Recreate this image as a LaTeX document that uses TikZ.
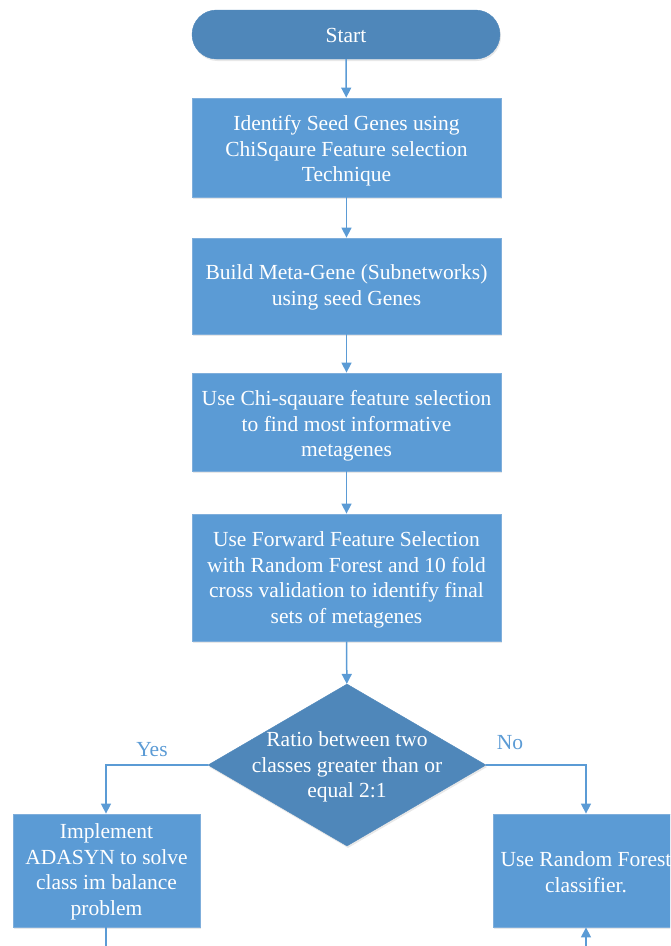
\documentclass[tikz,border=0pt]{standalone}
\usepackage{fontspec}
\setmainfont{Liberation Serif}
\usetikzlibrary{shapes.geometric,arrows.meta,shadows}
\definecolor{boxblue}{HTML}{5B9BD5}
\definecolor{darkblue}{HTML}{4F87BA}
\definecolor{edgeblue}{HTML}{7FAEDB}
\tikzset{
  base/.style={text=white, align=center, font=\fontsize{21.5}{25.5}\selectfont, inner sep=0pt,
    drop shadow={opacity=0.18, shadow xshift=1pt, shadow yshift=-2pt}},
  procbox/.style={base, rectangle, fill=boxblue, draw=edgeblue, line width=0.8pt},
  startbox/.style={base, rectangle, rounded corners=24.5pt, fill=darkblue, draw=darkblue},
  decbox/.style={base, diamond, fill=darkblue, draw=darkblue},
  conn/.style={draw=boxblue, line width=1.5pt, -{Triangle[length=10pt,width=10pt]}},
  plain/.style={draw=boxblue, line width=1.5pt},
  lbl/.style={text=boxblue, font=\fontsize{21.5}{25.5}\selectfont},
  txt/.style={text=white, align=center, font=\fontsize{21.5}{25.5}\selectfont, inner sep=0pt}
}
\begin{document}
\begin{tikzpicture}[x=1pt,y=-1pt]
\useasboundingbox (0,0) rectangle (670,946);
\clip (0,0) rectangle (670,946);
\node[startbox, minimum width=308pt, minimum height=49pt] (start) at (346,34.5) {};
\node[procbox, minimum width=309pt, minimum height=99pt] (b1) at (346.5,147.5) {};
\node[procbox, minimum width=309pt, minimum height=96pt] (b2) at (346.5,286) {};
\node[procbox, minimum width=309pt, minimum height=98pt] (b3) at (346.5,422) {};
\node[procbox, minimum width=309pt, minimum height=127pt] (b4) at (346.5,577.5) {};
\node[decbox, minimum width=278pt, minimum height=162pt, aspect=1.716] (d) at (347,765) {};
\node[procbox, minimum width=187pt, minimum height=113pt] (l) at (106.5,870.5) {};
\node[procbox, minimum width=186pt, minimum height=113pt] (r) at (586,870.5) {};
\node[txt] (t0) at (346,35.5) {Start};
\node[txt] (t1) at (346.5,151) {Identify Seed Genes using\\ChiSqaure Feature selection\\Technique};
\node[txt] (t2) at (346.5,287.5) {Build Meta-Gene (Subnetworks)\\using seed Genes};
\node[txt] (t3) at (346.5,426) {Use Chi-sqauare feature selection\\to find most informative\\metagenes};
\node[txt] (t4) at (346.5,580) {Use Forward Feature Selection\\with Random Forest and 10 fold\\cross validation to identify final\\sets of metagenes};
\node[txt] (dt) at (347,767) {Ratio between two\\classes greater than or\\equal 2:1};
\node[txt] (lt) at (106.5,872) {Implement\\ADASYN to solve\\class im balance\\problem};
\node[txt] (rt) at (586,872) {Use Random Forest\\classifier.};
\node[lbl] (yes) at (152,750) {Yes};
\node[lbl] (no) at (510,743) {No};
\coordinate (lc) at (106,765);
\coordinate (rc) at (586,765);
\coordinate (lend) at (106,960);
\coordinate (rend) at (586,960);
\draw[conn] (start) -- (b1);
\draw[conn] (b1) -- (b2);
\draw[conn] (b2) -- (b3);
\draw[conn] (b3) -- (b4);
\draw[conn] (b4) -- (d);
\draw[conn] (d.west) -- (lc) -- (l.north -| lc);
\draw[conn] (d.east) -- (rc) -- (r.north);
\draw[plain] (l.south -| lend) -- (lend);
\draw[conn] (rend) -- (r.south);
\end{tikzpicture}
\end{document}
